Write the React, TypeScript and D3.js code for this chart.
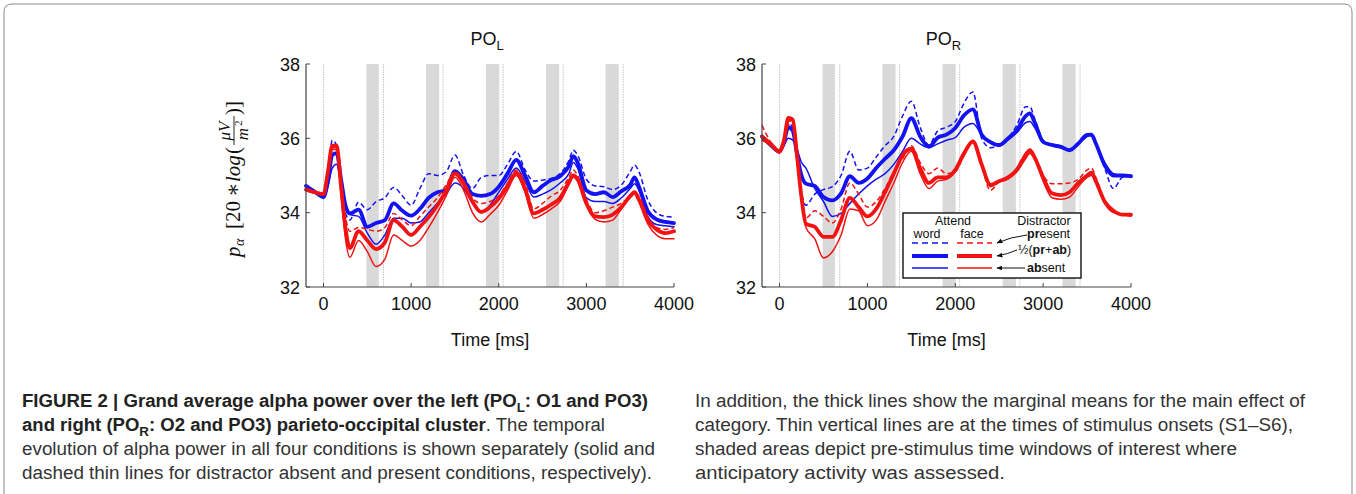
import React from 'react';
import * as d3 from 'd3';

// time grid in ms (shared by all series)
const times = [
  -200, -100, 0, 50, 100, 150, 200, 250, 300,
  400, 500, 600, 700, 800, 900, 1000, 1100, 1200,
  1300, 1400, 1500, 1600, 1700, 1800, 1900, 2000, 2100,
  2200, 2300, 2400, 2500, 2600, 2700, 2800, 2850, 2900,
  3000, 3100, 3200, 3300, 3400, 3500, 3550, 3600, 3700, 3800, 3900, 4000,
];

const onsets = [0, 685, 1365, 2050, 2735, 3420];
const windows = [[490, 630], [1170, 1320], [1855, 2005], [2540, 2690], [3220, 3370]];
const yTicks = [32, 34, 36, 38];
const xTicks = [0, 1000, 2000, 3000, 4000];

// PO_L
const leftWordPresent = [
  34.72, 34.55, 34.45, 35.0, 35.95, 35.8, 34.9, 34.0, 33.8,
  34.28, 34.08, 34.3, 34.4, 34.68, 34.45, 34.2, 34.65, 35.05,
  35.0, 35.1, 35.55, 35.0, 34.65, 34.95, 35.0, 35.0, 35.3,
  35.65, 35.15, 34.85, 34.88, 34.92, 35.05, 35.4, 35.68, 35.55,
  34.9, 34.72, 34.7, 34.62, 34.75, 35.1, 35.28, 35.1, 34.35, 34.0, 33.9, 33.88,
];
const leftWordMean = [
  34.72, 34.56, 34.42, 34.85, 35.55, 35.6, 34.9, 34.2, 33.98,
  34.08, 33.62, 33.72, 33.8, 34.25, 34.05, 33.92, 34.1, 34.4,
  34.55, 34.6, 35.12, 34.88, 34.5, 34.45, 34.5, 34.7, 35.05,
  35.42, 35.0, 34.55, 34.72, 34.88, 34.98, 35.25, 35.52, 35.35,
  34.6, 34.5, 34.55, 34.42, 34.58, 34.75, 34.95, 34.7, 34.05, 33.82, 33.75, 33.72,
];
const leftWordAbsent = [
  34.7, 34.55, 34.4, 34.7, 35.2, 35.3, 34.75, 34.1, 33.95,
  33.9, 33.45, 33.15, 33.4, 33.85, 33.85, 33.72, 33.75, 34.0,
  34.25, 34.5, 34.8, 34.65, 34.25, 34.0, 34.2, 34.55, 34.9,
  35.2, 34.85, 34.42, 34.5, 34.62, 34.8, 35.05, 35.35, 35.2,
  34.4, 34.3, 34.3, 34.25, 34.4, 34.65, 34.78, 34.6, 33.9, 33.68, 33.65, 33.62,
];
const leftFacePresent = [
  34.65, 34.55, 34.5, 35.05, 35.75, 35.75, 34.8, 33.9, 33.5,
  33.6, 33.55, 33.5, 33.6, 33.98, 33.8, 33.65, 33.9, 34.15,
  34.4, 34.75, 35.1, 34.85, 34.4, 34.25, 34.3, 34.45, 34.8,
  35.15, 34.8, 34.1, 34.25, 34.45, 34.6, 34.95, 35.15, 35.0,
  34.35, 34.0, 34.05, 34.15, 34.25, 34.45, 34.55, 34.45, 33.9, 33.6, 33.55, 33.6,
];
const leftFaceMean = [
  34.62, 34.55, 34.5, 35.1, 35.8, 35.8, 34.7, 33.6, 33.05,
  33.5, 33.25, 33.02, 33.2, 33.8, 33.62, 33.4, 33.62, 33.88,
  34.2, 34.6, 35.05, 34.78, 34.3, 34.02, 34.15, 34.38, 34.72,
  35.08, 34.65, 33.98, 34.08, 34.22, 34.4, 34.82, 35.0, 34.9,
  34.25, 33.9, 33.88, 33.95, 34.15, 34.45, 34.55, 34.35, 33.8, 33.55, 33.45, 33.5,
];
const leftFaceAbsent = [
  34.6, 34.52, 34.5, 35.05, 35.7, 35.7, 34.5, 33.3, 32.8,
  33.25, 32.95, 32.55, 32.75, 33.4, 33.25, 33.1, 33.25, 33.6,
  34.0, 34.45, 34.95, 34.6, 34.0, 33.75, 33.95, 34.2, 34.6,
  35.0, 34.55, 33.85, 33.95, 34.1, 34.3, 34.75, 34.95, 34.85,
  34.2, 33.82, 33.75, 33.8, 34.1, 34.4, 34.5, 34.3, 33.7, 33.4, 33.3, 33.3,
];

// PO_R
const rightWordPresent = [
  36.05, 35.85, 35.64, 35.95, 36.4, 36.3, 35.5, 34.55, 34.2,
  34.5, 34.62, 34.7, 35.0, 35.65, 35.15, 35.2, 35.5, 35.8,
  36.05, 36.6, 37.0, 36.3, 35.82, 36.2, 36.3, 36.45, 36.95,
  37.25, 36.0, 35.75, 35.8, 36.0, 36.35, 36.85, 36.85, 36.55,
  35.95, 35.8, 35.75, 35.7, 35.85, 36.05, 36.1, 35.85, 35.2, 34.65, 34.95, 35.0,
];
const rightWordMean = [
  36.05, 35.82, 35.64, 35.9, 36.3, 36.2, 35.55, 35.0, 34.78,
  34.72, 34.42, 34.33, 34.52, 34.98, 34.8, 34.92, 35.2, 35.45,
  35.68, 36.05, 36.54, 36.05, 35.78, 36.02, 36.1, 36.28, 36.62,
  36.78, 36.1, 35.9, 35.82, 36.0, 36.22, 36.6, 36.67, 36.45,
  35.9, 35.82, 35.77, 35.68, 35.86, 36.09, 36.1, 35.86, 35.28, 35.0, 35.0, 34.98,
];
const rightWordAbsent = [
  36.0, 35.8, 35.65, 35.8, 36.0, 35.95, 35.7, 35.35, 35.2,
  34.65, 34.3, 33.9, 33.98, 34.25, 34.5, 34.72, 34.9, 35.05,
  35.3, 35.65, 36.0, 35.85, 35.75, 35.85, 35.95, 36.02, 36.3,
  36.4, 36.1, 35.9, 35.8, 35.95, 36.15, 36.42, 36.45, 36.3,
  35.9, 35.85, 35.8, 35.7, 35.85, 36.05, 36.08, 35.85, 35.35, 35.05, 35.0, 35.0,
];
const rightFacePresent = [
  36.35, 35.9, 35.65, 35.9, 36.35, 36.5, 35.4, 34.4, 33.85,
  34.05, 33.9, 33.72, 34.1, 34.8, 34.5, 34.15, 34.3, 34.65,
  35.1, 35.45, 35.8, 35.35, 35.05, 35.2, 35.05, 35.1, 35.55,
  35.9, 35.25, 34.6, 34.85, 34.95, 35.2, 35.6, 35.68, 35.5,
  35.0, 34.78, 34.78, 34.8, 34.9, 35.15, 35.2, 34.95, 34.3, 34.05, 33.95, 33.95,
];
const rightFaceMean = [
  36.05, 35.85, 35.65, 35.95, 36.55, 36.5, 35.5, 34.4, 33.7,
  33.62, 33.35, 33.35, 33.8, 34.4, 34.15, 33.9, 34.1, 34.55,
  35.05, 35.55, 35.72, 35.2, 34.8, 34.95, 34.95, 35.15, 35.6,
  35.92, 35.3, 34.75, 34.85, 34.95, 35.15, 35.55, 35.68, 35.5,
  34.95, 34.52, 34.47, 34.55, 34.8, 35.0, 35.08, 34.85, 34.3, 34.05, 33.95, 33.95,
];
const rightFaceAbsent = [
  35.95, 35.8, 35.6, 35.9, 36.45, 36.5, 35.4, 34.3, 33.6,
  33.3, 32.78, 32.95, 33.4, 34.1, 34.05, 33.65, 33.8, 34.3,
  34.8, 35.35, 35.65, 35.05, 34.65, 34.85, 34.9, 35.1, 35.55,
  35.88, 35.25, 34.7, 34.82, 34.9, 35.1, 35.45, 35.6, 35.45,
  34.85, 34.4, 34.36, 34.42, 34.7, 34.95, 35.0, 34.8, 34.25, 34.0, 33.95, 33.9,
];

const BLUE = '#1212f2';
const RED = '#f31212';
const TOP = 64;
const BOTTOM = 287;
const AX_FONT = 'Arial, "Liberation Sans", Helvetica, sans-serif';

const Panel = ({ left, right, sub, series }) => {
  const x = d3.scaleLinear().domain([-200, 4000]).range([left, right]);
  const y = d3.scaleLinear().domain([32, 38]).range([BOTTOM, TOP]);
  const line = d3.line<number>()
    .x((d, i) => x(times[i]))
    .y(d => y(d))
    .curve(d3.curveMonotoneX);

  // draw order: blue thin/dashed, blue thick, red thin/dashed, red thick
  const styles = [
    { color: BLUE, w: 1.5, dash: '5,3' },
    { color: BLUE, w: 1.5, dash: null },
    { color: BLUE, w: 3.8, dash: null },
    { color: RED, w: 1.5, dash: '5,3' },
    { color: RED, w: 1.5, dash: null },
    { color: RED, w: 3.8, dash: null },
  ];

  const cx = (left + right) / 2;
  return (
    <g>
      {windows.map(([a, b], i) => (
        <rect key={'w' + i} x={x(a)} y={TOP} width={x(b) - x(a)} height={BOTTOM - TOP} fill="#d9d9d9" />
      ))}
      {onsets.map((t, i) => (
        <line key={'o' + i} x1={x(t)} x2={x(t)} y1={TOP} y2={BOTTOM}
          stroke="#c4c4c4" strokeWidth={1} strokeDasharray="1.5,1" />
      ))}
      {series.map((s, i) => (
        <path key={'s' + i} d={line(s) || ''} fill="none" stroke={styles[i].color}
          strokeWidth={styles[i].w} strokeDasharray={styles[i].dash || undefined}
          strokeLinejoin="round" strokeLinecap={styles[i].dash ? 'butt' : 'round'} />
      ))}
      {/* axes */}
      <line x1={left} x2={left} y1={TOP} y2={BOTTOM} stroke="#444" strokeWidth={1.2} />
      <line x1={left} x2={right} y1={BOTTOM} y2={BOTTOM} stroke="#444" strokeWidth={1.2} />
      {yTicks.map(t => (
        <g key={'yt' + t}>
          <line x1={left} x2={left + 4} y1={y(t)} y2={y(t)} stroke="#444" />
          <text x={left - 6} y={y(t) + 6.5} textAnchor="end" fontSize={18} fontFamily={AX_FONT} fill="#111">{t}</text>
        </g>
      ))}
      {xTicks.map(t => (
        <g key={'xt' + t}>
          <line x1={x(t)} x2={x(t)} y1={BOTTOM} y2={BOTTOM - 4} stroke="#444" />
          <text x={x(t)} y={310} textAnchor="middle" fontSize={18} fontFamily={AX_FONT} fill="#111">{t}</text>
        </g>
      ))}
      <text x={cx} y={346} textAnchor="middle" fontSize={18} fontFamily={AX_FONT} fill="#111">Time [ms]</text>
      <text x={cx - 3} y={45} textAnchor="middle" fontSize={18} fontFamily={AX_FONT} fill="#111">
        PO<tspan fontSize={13} dy={5}>{sub}</tspan>
      </text>
    </g>
  );
};

const YLabel = () => {
  const serif = '"Liberation Serif", "DejaVu Serif", "Times New Roman", serif';
  return (
    <g transform="translate(240,175) rotate(-90)" fontFamily={serif} fill="#111">
      <text x={-82} y={0} fontSize={21} fontStyle="italic">p</text>
      <text x={-71} y={4} fontSize={14} fontStyle="italic">α</text>
      <text x={-54} y={0} fontSize={21}>[20</text>
      <text x={-22} y={0} fontSize={21}>∗</text>
      <text x={-7} y={0} fontSize={21} fontStyle="italic">log</text>
      <text x={21} y={0} fontSize={21}>(</text>
      <text x={44} y={-10} fontSize={17} fontStyle="italic" textAnchor="middle">μV</text>
      <line x1={30} x2={59} y1={-6} y2={-6} stroke="#111" strokeWidth={0.9} />
      <text x={41} y={8} fontSize={17} fontStyle="italic" textAnchor="middle">m</text>
      <text x={49} y={2} fontSize={11}>2</text>
      <text x={60} y={0} fontSize={21}>)]</text>
    </g>
  );
};

const Legend = () => {
  const f = AX_FONT;
  return (
    <g fontFamily={f} fontSize={12.5} fill="#111">
      <defs>
        <marker id="arr" viewBox="0 0 10 10" refX="9" refY="5" markerWidth="6" markerHeight="6" orient="auto">
          <path d="M0,1 L10,5 L0,9 z" fill="#111" />
        </marker>
      </defs>
      <rect x={903} y={213} width={178} height={65} fill="#fff" stroke="#111" strokeWidth={1.4} />
      <text x={953} y={225} textAnchor="middle">Attend</text>
      <text x={927} y={238} textAnchor="middle">word</text>
      <text x={972} y={238} textAnchor="middle">face</text>
      <text x={1044} y={225} textAnchor="middle">Distractor</text>
      <text x={1027} y={238}><tspan fontWeight="bold">pr</tspan>esent</text>
      <text x={1018} y={254}>½(<tspan fontWeight="bold">pr</tspan>+<tspan fontWeight="bold">ab</tspan>)</text>
      <text x={1027} y={272}><tspan fontWeight="bold">ab</tspan>sent</text>
      <line x1={912} x2={948} y1={243} y2={243} stroke={BLUE} strokeWidth={1.5} strokeDasharray="6,4" />
      <line x1={957} x2={992} y1={243} y2={243} stroke={RED} strokeWidth={1.5} strokeDasharray="6,4" />
      <line x1={912} x2={948} y1={256} y2={256} stroke={BLUE} strokeWidth={3.8} />
      <line x1={957} x2={992} y1={256} y2={256} stroke={RED} strokeWidth={3.8} />
      <line x1={912} x2={948} y1={268} y2={268} stroke={BLUE} strokeWidth={1.5} />
      <line x1={957} x2={992} y1={268} y2={268} stroke={RED} strokeWidth={1.5} />
      <path d="M1027,235 Q1010,237 997,243" fill="none" stroke="#111" strokeWidth={1} markerEnd="url(#arr)" />
      <path d="M1017,250 Q1008,254 997,256" fill="none" stroke="#111" strokeWidth={1} markerEnd="url(#arr)" />
      <path d="M1025,268 L997,268" fill="none" stroke="#111" strokeWidth={1} markerEnd="url(#arr)" />
    </g>
  );
};

const CAP_FONT = '"Liberation Sans", Arial, sans-serif';

const Caption = () => (
  <g fontFamily={CAP_FONT} fontSize={18} fill="#333">
    <text x={22} y={407} textLength={626} lengthAdjust="spacingAndGlyphs" fontWeight="bold" fill="#222">
      FIGURE 2 | Grand average alpha power over the left (PO<tspan fontSize={13} dy={5}>L</tspan><tspan dy={-5}>: O1 and PO3)</tspan>
    </text>
    <text x={22} y={431} textLength={583} lengthAdjust="spacingAndGlyphs">
      <tspan fontWeight="bold" fill="#222">and right (PO</tspan><tspan fontWeight="bold" fill="#222" fontSize={13} dy={5}>R</tspan><tspan fontWeight="bold" fill="#222" dy={-5}>: O2 and PO3) parieto-occipital cluster</tspan>. The temporal
    </text>
    <text x={22} y={455} textLength={633} lengthAdjust="spacingAndGlyphs">
      evolution of alpha power in all four conditions is shown separately (solid and
    </text>
    <text x={22} y={479} textLength={630} lengthAdjust="spacingAndGlyphs">
      dashed thin lines for distractor absent and present conditions, respectively).
    </text>
    <text x={695} y={407} textLength={610} lengthAdjust="spacingAndGlyphs">
      In addition, the thick lines show the marginal means for the main effect of
    </text>
    <text x={695} y={431} textLength={598} lengthAdjust="spacingAndGlyphs">
      category. Thin vertical lines are at the times of stimulus onsets (S1–S6),
    </text>
    <text x={695} y={455} textLength={542} lengthAdjust="spacingAndGlyphs">
      shaded areas depict pre-stimulus time windows of interest where
    </text>
    <text x={695} y={479} textLength={310} lengthAdjust="spacingAndGlyphs">
      anticipatory activity was assessed.
    </text>
  </g>
);

export default function App() {
  const W = 1356;
  const H = 494;
  return (
    <svg width={W} height={H} style={{ position: 'absolute', left: 0, top: 0, background: '#fff' }}>
      <rect x={0} y={0} width={W} height={H} fill="#fff" />
      <path d="M4,494 L4,12 Q4,4 12,4 L1344,4 Q1352,4 1352,12 L1352,494" fill="none" stroke="#8a8a8a" strokeWidth={1} />
      <Panel left={306} right={674} sub="L"
        series={[leftWordPresent, leftWordAbsent, leftWordMean, leftFacePresent, leftFaceAbsent, leftFaceMean]} />
      <Panel left={762} right={1131} sub="R"
        series={[rightWordPresent, rightWordAbsent, rightWordMean, rightFacePresent, rightFaceAbsent, rightFaceMean]} />
      <YLabel />
      <Legend />
      <Caption />
    </svg>
  );
}
